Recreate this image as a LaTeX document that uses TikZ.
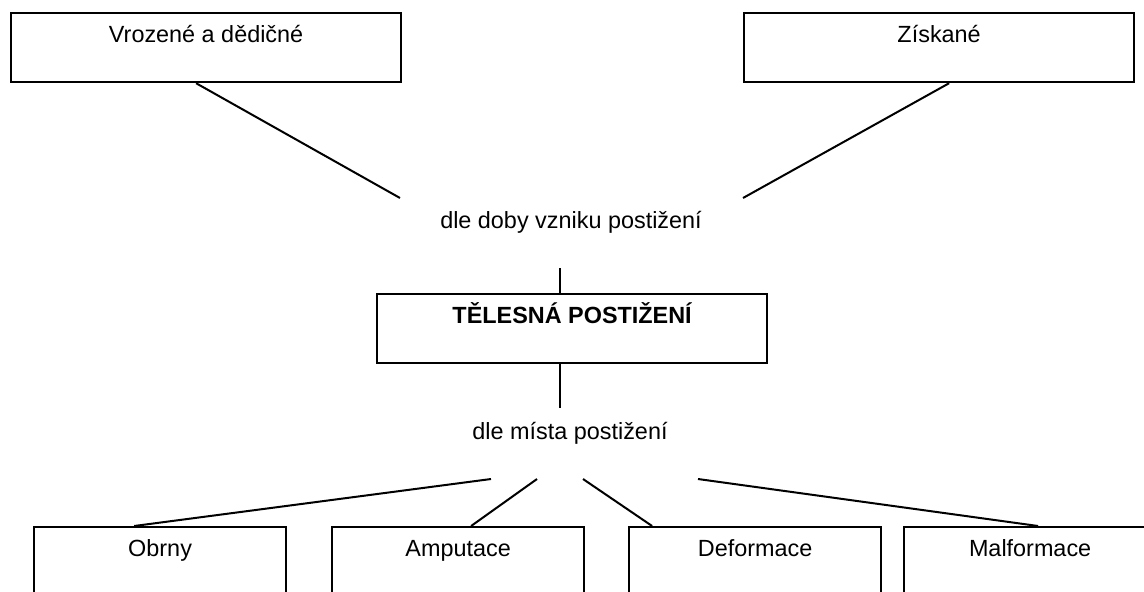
\documentclass[tikz,border=0pt]{standalone}
\usepackage{fontspec}
\setmainfont{Liberation Sans}
\usetikzlibrary{positioning}
\tikzset{
box/.style={draw=black,line width=1.1pt,minimum width=195pt,anchor=north west,inner xsep=2pt,inner ysep=2pt,
text height=12.8pt,text depth=17.7pt,font=\fontsize{11.7}{14}\selectfont},
smallbox/.style={box,minimum width=126pt},
mainbox/.style={box,font=\fontsize{11.7}{14}\selectfont\bfseries},
criterion/.style={inner sep=1pt,font=\fontsize{11.7}{14}\selectfont},
branch/.style={line width=1pt,black}
}

\begin{document}
\begin{tikzpicture}[x=0.5pt,y=-0.5pt]
\path[use as bounding box,clip] (0,0) rectangle (1144,591);
% dle doby vzniku
\node[box] (vroz) at (10,12) {Vrozené a dědičné};
\node[box] (zisk) at (743,12) {Získané};
\node[criterion] (doba) at (571,222) {dle doby vzniku postižení};
\node[mainbox] (tel) at (376,293) {TĚLESNÁ POSTIŽENÍ};
% dle mista
\node[criterion] (misto) at (570,433) {dle místa postižení};
\node[smallbox] (obrny) at (33,526) {Obrny};
\node[smallbox] (amput) at (331,526) {Amputace};
\node[smallbox] (deform) at (628,526) {Deformace};
\node[smallbox] (malf) at (903,526) {Malformace};
\coordinate (d1) at (400,198);
\coordinate (d2) at (743,198);
\coordinate (d3) at (560,268);
\coordinate (m0) at (560,408);
\coordinate (m1) at (491,479);
\coordinate (m2) at (537,479);
\coordinate (m3) at (583,479);
\coordinate (m4) at (698,479);
\draw[branch] ([xshift=-5pt]vroz.south) -- (d1);
\draw[branch] ([xshift=5pt]zisk.south) -- (d2);
\draw[branch] (d3) -- (d3 |- tel.north);
\draw[branch] (m0 |- tel.south) -- (m0);
\draw[branch] (m1) -- ([xshift=-13pt]obrny.north);
\draw[branch] (m2) -- ([xshift=6.5pt]amput.north);
\draw[branch] (m3) -- ([xshift=-51.5pt]deform.north);
\draw[branch] (m4) -- ([xshift=4pt]malf.north);
\end{tikzpicture}
\end{document}
